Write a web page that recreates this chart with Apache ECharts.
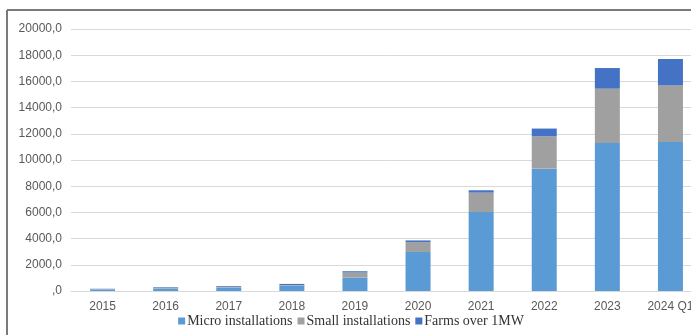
<!DOCTYPE html>
<html lang="en">
<head>
	<meta charset="UTF-8">
	<title>Installations</title>
	<style>
		html, body { margin: 0; padding: 0; overflow: hidden; background: #fff; }
	</style>
</head>
<body>
	<div id="main" style="width: 702px;height:335px;"></div>
</body>
</html>

<script src='https://cdnjs.cloudflare.com/ajax/libs/echarts/6.0.0/echarts.min.js'></script>
<script>

		var categories = ['2015', '2016', '2017', '2018', '2019', '2020', '2021', '2022', '2023', '2024 Q1'];
		var micro = [110, 190, 260, 400, 1020, 2980, 6030, 9340, 11300, 11370];
		var small = [30, 40, 50, 60, 390, 750, 1480, 2470, 4150, 4330];
		var farms = [30, 50, 60, 80, 100, 130, 180, 590, 1570, 2010];
		var seriesNames = ['Micro installations', 'Small installations', 'Farms over 1MW'];
		var colors = ['#5b9bd5', '#a0a0a0', '#4472c4'];

		var myChart = echarts.init(document.getElementById('main'));

		var option = {
		    color: colors,
		    animation: false,
		    grid: {
		        left: 71,
		        right: 0,
		        top: 29,
		        bottom: 44
		    },
		    // frame of the original picture (top and left edges only are visible)
		    graphic: [
		        { type: 'line', shape: { x1: 7, y1: 10, x2: 702, y2: 10 }, style: { stroke: '#7a7a7a', lineWidth: 2 } },
		        { type: 'line', shape: { x1: 7, y1: 10, x2: 7, y2: 335 }, style: { stroke: '#7a7a7a', lineWidth: 2 } }
		    ],
		    legend: {
		        data: seriesNames,
		        bottom: 2,
		        left: 'center',
		        itemWidth: 7,
		        itemHeight: 7,
		        itemGap: 5,
		        icon: 'rect',
		        textStyle: {
		            fontFamily: 'Liberation Serif',
		            fontSize: 14,
		            color: '#333',
		            padding: [0, 0, 0, -3]
		        }
		    },
		    xAxis: {
		        type: 'category',
		        data: categories,
		        axisTick: { show: false },
		        axisLine: { lineStyle: { color: '#d9d9d9' } },
		        axisLabel: {
		            color: '#595959',
		            fontFamily: 'Liberation Sans',
		            fontSize: 12,
		            margin: 10
		        }
		    },
		    yAxis: {
		        type: 'value',
		        min: 0,
		        max: 20000,
		        interval: 2000,
		        axisLabel: {
		            color: '#595959',
		            fontFamily: 'Liberation Sans',
		            fontSize: 12,
		            margin: 9,
		            formatter: function (v) {
		                return v === 0 ? ',0' : v + ',0';
		            }
		        },
		        splitLine: { lineStyle: { color: '#d9d9d9' } }
		    },
		    series: [
		        { name: seriesNames[0], type: 'bar', stack: 'all', barWidth: 25, data: micro },
		        { name: seriesNames[1], type: 'bar', stack: 'all', barWidth: 25, data: small },
		        { name: seriesNames[2], type: 'bar', stack: 'all', barWidth: 25, data: farms }
		    ]
		};
		myChart.setOption(option);

	</script>
